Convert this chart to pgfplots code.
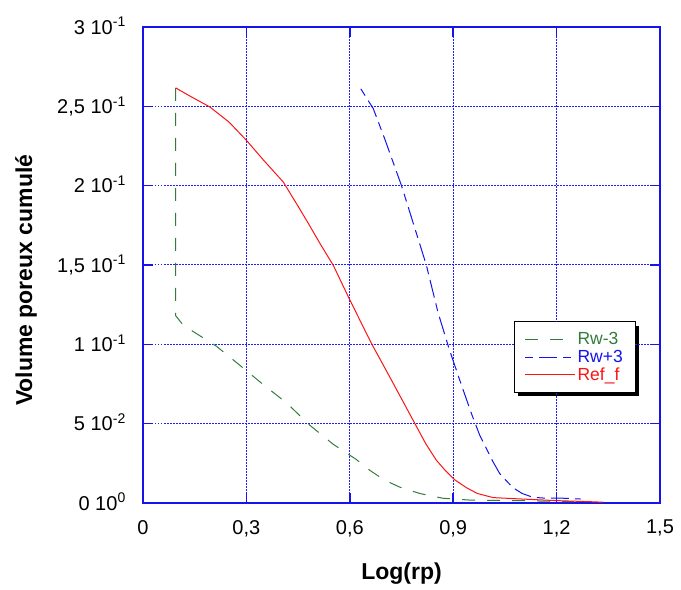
\documentclass[border=0pt]{standalone}
\usepackage{pgfplots}
\pgfplotsset{compat=1.18}
\usepackage{fontspec}
\setmainfont{Liberation Sans}
\usetikzlibrary{backgrounds}
\definecolor{cgreen}{RGB}{50,125,60}
\definecolor{cblue}{RGB}{20,20,235}
\definecolor{cgrid}{RGB}{30,30,255}
\definecolor{cred}{RGB}{250,20,20}
\newcommand\tf{\fontsize{20}{24}\selectfont}
\newcommand\lf{\fontsize{17.5}{21}\selectfont}
\newcommand\sx[1]{\textsuperscript{#1}}
\begin{document}
\begin{tikzpicture}
\begin{axis}[name=ax, scale only axis, width=517pt, height=476pt,
  xmin=0, xmax=1.5, ymin=0, ymax=0.3,
  axis line style={cblue, line width=1.5pt},
  xtick={0,0.3,0.6,0.9,1.2,1.5},
  xticklabels={{\tf 0},{\tf 0,3},{\tf 0,6},{\tf 0,9},{\tf 1,2},{\tf 1,5}},
  ytick={0,0.05,0.1,0.15,0.2,0.25,0.3},
  yticklabels={{\tf 0 10\sx{0}},{\tf 5 10\sx{-2}},{\tf 1 10\sx{-1}},{\tf 1,5 10\sx{-1}},{\tf 2 10\sx{-1}},{\tf 2,5 10\sx{-1}},{\tf 3 10\sx{-1}}},
  tick style={cblue, line width=1.5pt},
  major tick length=10pt,
  tick align=inside,
  grid=major,
  major grid style={draw=cgrid, dash pattern=on 1.5pt off 1.5pt, line width=1pt},
  tick label style={inner sep=0pt},
  yticklabel style={anchor=base east, xshift=-17pt, yshift=-7.2pt},
  xticklabel style={anchor=north, yshift=-17pt},
  xlabel={Log(rp)}, ylabel={Volume poreux cumulé},
  label style={font=\bfseries\fontsize{23}{27}\selectfont},
  xlabel style={at={(axis description cs:0.5,-0.148)}, anchor=center},
  ylabel style={at={(axis description cs:-0.226,0.468)}, anchor=center},
  legend image code/.code={\draw[#1] (0pt,0pt) -- (50pt,0pt);},
  legend style={name=leg, at={(axis cs:1.4274,0.1139)}, anchor=north east,
    draw=none, fill=white,
    font=\lf,
    inner xsep=10pt, inner ysep=8pt, row sep=0pt,
    nodes={inner sep=2pt}},
  legend cell align=left,
]
\addplot[cgreen, line width=1pt, dash pattern=on 13pt off 12pt] coordinates {
(0.095,0.2616) (0.095,0.118) (0.117,0.112) (0.213,0.0988) (0.281,0.0868)
(0.349,0.0746) (0.417,0.063) (0.484,0.049) (0.552,0.037) (0.619,0.0274)
(0.658,0.0206) (0.70,0.0145) (0.745,0.010) (0.803,0.006) (0.87,0.003) (0.95,0.0018)
(1.10,0.0015) (1.20,0.001) (1.25,0.0008)
};
\addlegendentry[text=cgreen]{\lf Rw-3}
\addplot[cblue, line width=1pt, dash pattern=on 8pt off 6pt on 18pt off 6pt] coordinates {
(0.632,0.261) (0.668,0.2486) (0.701,0.2297) (0.75,0.200) (0.822,0.150)
(0.856,0.120) (0.887,0.098) (0.919,0.0774) (0.953,0.0563) (0.977,0.0427) (1.016,0.0258)
(1.035,0.0185) (1.073,0.0097) (1.10,0.006) (1.131,0.0036) (1.17,0.003)
(1.22,0.003) (1.27,0.0025)
};
\addlegendentry[text=cblue]{\lf Rw+3}
\addplot[cred, line width=1pt] coordinates {
(0.095,0.2616) (0.14,0.256) (0.194,0.2496) (0.25,0.240) (0.30,0.2286)
(0.35,0.216) (0.407,0.2023) (0.45,0.187) (0.48,0.1761) (0.515,0.163) (0.552,0.1498)
(0.60,0.128) (0.663,0.1005) (0.716,0.0794) (0.755,0.0637) (0.789,0.050)
(0.82,0.0375) (0.851,0.027) (0.877,0.0205) (0.904,0.0147) (0.938,0.0097) (0.97,0.006) (1.016,0.0034)
(1.10,0.0025) (1.20,0.0015) (1.30,0.0008) (1.335,0.0005)
};
\addlegendentry[text=cred]{\lf Ref\_f}
\end{axis}
\begin{scope}[on background layer]
\fill[black] ([xshift=4pt,yshift=-4pt]leg.south west) rectangle ([xshift=4pt,yshift=-4pt]leg.north east);
\fill[black] ([xshift=-0.8pt,yshift=-0.8pt]leg.south west) rectangle ([xshift=0.8pt,yshift=0.8pt]leg.north east);
\end{scope}
\path ([xshift=-143pt,yshift=-87pt]ax.south west) rectangle ([xshift=21pt,yshift=27pt]ax.north east);
\end{tikzpicture}
\end{document}
